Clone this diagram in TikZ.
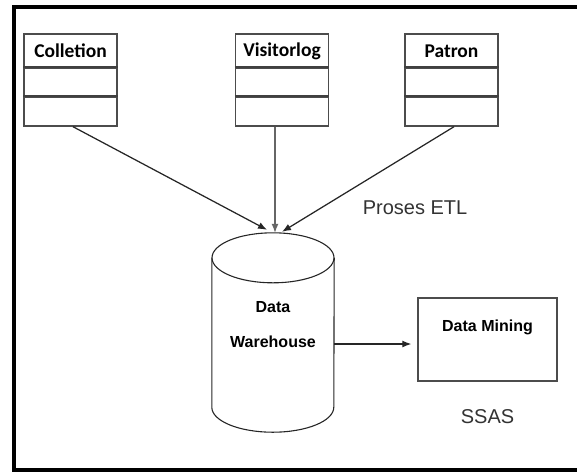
\documentclass[tikz,border=0pt]{standalone}
\usepackage{fontspec}
\usetikzlibrary{arrows.meta,positioning}
\newfontfamily\carlito{Carlito}
\newfontfamily\arialfont{Liberation Sans}

\tikzset{
  head/.style={draw=black!70,line width=1.4pt,minimum width=93pt,minimum height=34pt,
    inner sep=0pt,font=\carlito\bfseries\fontsize{19.5}{22}\selectfont},
  slot/.style={draw=black!70,line width=1.4pt,minimum width=93pt,minimum height=29pt},
  divider/.style={draw=black!75,line width=2.2pt},
  store/.style={minimum width=122pt,minimum height=199pt,inner sep=0pt},
  storeline/.style={draw=black!85,line width=1.1pt},
  bold/.style={align=center,font=\arialfont\bfseries\fontsize{16}{35}\selectfont},
  minebox/.style={draw=black!70,line width=1.4pt,minimum width=139pt,minimum height=83pt},
  note/.style={text=black!80,font=\arialfont\fontsize{20}{24}\selectfont},
  arr/.style={->,draw=black!85,line width=1.25pt},
}

\begin{document}
\begin{tikzpicture}[x=1pt,y=-1pt,on grid,>={Latex[length=9pt,width=7pt]}]
\useasboundingbox (0,0) rectangle (577,472);
\draw[line width=4pt] (577,6.5) -| (14,470) -- (577,470);

% source tables
\node[head] (colletion) at (70.5,51) {Colletion};
\node[slot] (colletion1) [below=31.5pt of colletion] {};
\node[slot] (colletion2) [below=29pt of colletion1] {};
\node[head] (visitorlog) [right=211.5pt of colletion] {Visitorlog};
\node[slot] (visitorlog1) [below=31.5pt of visitorlog] {};
\node[slot] (visitorlog2) [below=29pt of visitorlog1] {};
\node[head] (patron) [right=169.5pt of visitorlog] {Patron};
\node[slot] (patron1) [below=31.5pt of patron] {};
\node[slot] (patron2) [below=29pt of patron1] {};
\foreach \t in {colletion,visitorlog,patron} {
  \draw[divider] (\t1.north west) -- (\t1.north east);
  \draw[divider] (\t2.north west) -- (\t2.north east);
}

% warehouse and mining
\node[store] (dw) at (273,332.5) {};
\draw[storeline] ([yshift=-25pt]dw.north west) -- ([yshift=25pt]dw.south west)
  arc[start angle=180,end angle=360,x radius=61pt,y radius=25pt]
  -- ([yshift=-25pt]dw.north east);
\draw[storeline] ([yshift=-25pt]dw.north) ellipse[x radius=61pt,y radius=25pt];
\node[bold] (dwtext) at (273,324.5) {Data\\Warehouse};
\node[minebox] (dm) at (487.5,339.5) {};
\node[bold,anchor=base] (dmtext) at ([yshift=-33.7pt]dm.north) {Data Mining};
\node[note] (etl) at (415,208) {Proses ETL};
\node[note] (ssas) [below=77.5pt of dm] {SSAS};

% ETL flows
\draw[arr] ([xshift=2.5pt]colletion2.south) -- ([xshift=-6pt,yshift=3pt]dw.north);
\draw[arr,draw=black!60] ([xshift=-7pt]visitorlog2.south) -- ([xshift=2pt]dw.north);
\draw[arr] ([xshift=2.5pt]patron2.south) -- ([xshift=9pt,yshift=1pt]dw.north);
\coordinate (out) at (dw.east |- 0,344);
\draw[arr,shorten >=6pt] (out) -- (out -| dm.west);
\end{tikzpicture}
\end{document}
